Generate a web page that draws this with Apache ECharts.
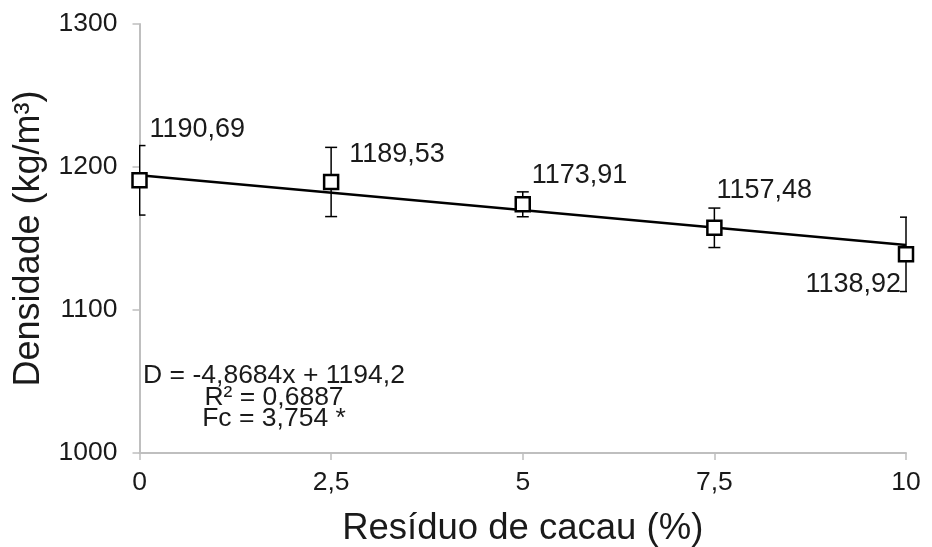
<!DOCTYPE html>
<html>
<head>
<meta charset="utf-8">
<script src="https://cdn.jsdelivr.net/npm/echarts@6/dist/echarts.min.js"></script>
<style>
  html, body { margin: 0; padding: 0; background: #ffffff; }
  #chart { width: 932px; height: 547px; }
</style>
</head>
<body>
<div id="chart"></div>
<script>
// Teor de resíduo de cacau (%) e densidade média (kg/m³)
const residuo = [0, 2.5, 5, 7.5, 10];
const densidade = [1190.69, 1189.53, 1173.91, 1157.48, 1138.92];
// Desvio padrão de cada média (barras de erro)
const desvio = [24.3, 24.2, 8.7, 13.8, 26.0];
// Regressão linear: D = a·x + b
const coefA = [-4.8684];
const coefB = [1194.2];
const equacao = ['D = -4,8684x + 1194,2', 'R² = 0,6887', 'Fc = 3,754 *'];
const xTickLabels = ['0', '2,5', '5', '7,5', '10'];
const yTicks = [1000, 1100, 1200, 1300];

const FONT = '"Liberation Sans", Arial, sans-serif';
const TEXT = '#1a1a1a';
const AXIS = '#bfbfbf';

const fmt = v => v.toFixed(2).replace('.', ',');

// Posição de cada rótulo de valor em relação ao centro do marcador
const labelPlace = [
  { align: 'left',  dx: 10, dy: -51 },
  { align: 'left',  dx: 18, dy: -27 },
  { align: 'left',  dx: 9,  dy: -29 },
  { align: 'left',  dx: 2,  dy: -37 },
  { align: 'right', dx: -5, dy: 30 }
];

const pontos = residuo.map((x, i) => ({
  value: [x, densidade[i]],
  label: {
    show: true,
    formatter: fmt(densidade[i]),
    position: ['50%', '50%'],
    align: labelPlace[i].align,
    verticalAlign: 'middle',
    offset: [labelPlace[i].dx, labelPlace[i].dy],
    color: TEXT,
    fontSize: 27,
    fontFamily: FONT
  }
}));

const erros = residuo.map((x, i) => [x, densidade[i] - desvio[i], densidade[i] + desvio[i]]);

const xMin = residuo[0], xMax = residuo[residuo.length - 1];
const tendencia = [
  [xMin, coefA[0] * xMin + coefB[0]],
  [xMax, coefA[0] * xMax + coefB[0]]
];

const chart = echarts.init(document.getElementById('chart'));

chart.setOption({
  animation: false,
  backgroundColor: '#ffffff',
  textStyle: { fontFamily: FONT },
  grid: { left: 139.5, right: 26, top: 24, bottom: 94, containLabel: false, outerBoundsMode: 'none' },
  xAxis: {
    type: 'value',
    min: 0, max: 10, interval: 2.5,
    name: 'Resíduo de cacau (%)',
    nameLocation: 'middle',
    nameGap: 58,
    nameTextStyle: { fontSize: 36.5, lineHeight: 36, color: TEXT, fontFamily: FONT },
    axisLine: { show: true, lineStyle: { color: AXIS, width: 2 } },
    axisTick: { show: true, length: 7, lineStyle: { color: AXIS, width: 1.5 } },
    axisLabel: {
      fontSize: 26.5, lineHeight: 26, color: TEXT, margin: 17, fontFamily: FONT,
      formatter: v => xTickLabels[residuo.indexOf(v)] ?? String(v).replace('.', ',')
    },
    splitLine: { show: false }
  },
  yAxis: {
    type: 'value',
    min: yTicks[0], max: yTicks[yTicks.length - 1], interval: 100,
    name: 'Densidade (kg/m³)',
    nameLocation: 'middle',
    nameGap: 92,
    nameTextStyle: { fontSize: 36, lineHeight: 36, color: TEXT, fontFamily: FONT },
    axisLine: { show: true, lineStyle: { color: AXIS, width: 2 } },
    axisTick: { show: true, length: 7, lineStyle: { color: AXIS, width: 1.5 } },
    axisLabel: {
      fontSize: 26.5, color: TEXT, margin: 22, fontFamily: FONT,
      formatter: v => String(v)
    },
    splitLine: { show: false }
  },
  series: [
    {
      // barras de erro (desvio padrão)
      type: 'custom',
      clip: true,
      z: 2,
      data: erros,
      renderItem: (params, api) => {
        const x = api.value(0);
        const lo = api.coord([x, api.value(1)]);
        const hi = api.coord([x, api.value(2)]);
        const half = 6;
        const style = { stroke: '#000000', lineWidth: 1.5, fill: null };
        return {
          type: 'group',
          children: [
            { type: 'line', shape: { x1: lo[0], y1: lo[1], x2: hi[0], y2: hi[1] }, style },
            { type: 'line', shape: { x1: hi[0] - half, y1: hi[1], x2: hi[0] + half, y2: hi[1] }, style },
            { type: 'line', shape: { x1: lo[0] - half, y1: lo[1], x2: lo[0] + half, y2: lo[1] }, style }
          ]
        };
      }
    },
    {
      // reta de regressão
      type: 'line',
      z: 3,
      data: tendencia,
      symbol: 'none',
      lineStyle: { color: '#000000', width: 2.5 },
      silent: true
    },
    {
      // médias observadas
      type: 'scatter',
      z: 4,
      data: pontos,
      symbol: 'rect',
      symbolSize: 14,
      itemStyle: { color: '#ffffff', borderColor: '#000000', borderWidth: 2.5, opacity: 1 },
      label: { color: TEXT, fontSize: 27, fontFamily: FONT }
    }
  ],
  graphic: equacao.map((t, i) => ({
    type: 'text',
    x: 274,
    y: 376 + i * 21.5,
    z: 10,
    style: {
      text: t,
      fontSize: 26.5,
      fontFamily: FONT,
      fill: TEXT,
      align: 'center',
      verticalAlign: 'middle'
    }
  }))
});
</script>
</body>
</html>
